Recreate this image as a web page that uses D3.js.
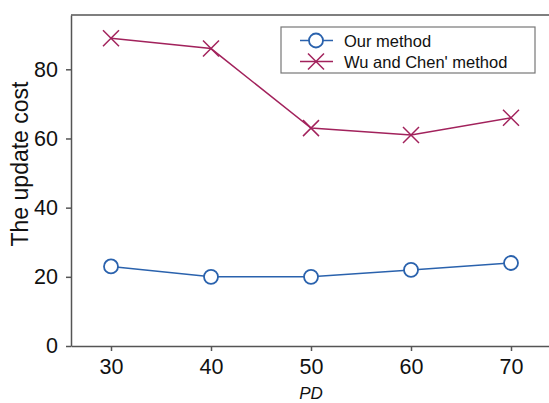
<!DOCTYPE html>
<html>
<head>
<meta charset="utf-8">
<script src="https://cdn.jsdelivr.net/npm/d3@7"></script>
<style>
  body { margin: 0; background: #fff; }
  svg { display: block; font-family: "Liberation Sans", Arial, sans-serif; }
</style>
</head>
<body>
<div id="chart"></div>
<script>
// data
var pd = [30, 40, 50, 60, 70];
var ourMethod = [23, 20, 20, 22, 24];
var wuChen = [89, 86, 63, 61, 66];
var seriesNames = ["Our method", "Wu and Chen' method"];
var yTicks = [0, 20, 40, 60, 80];

var svgWidth = 549, svgHeight = 403;
var margin = { top: 15, right: 0, bottom: 57, left: 71 };
var width = svgWidth - margin.left - margin.right;
var height = svgHeight - margin.top - margin.bottom;

var blue = "#2a62ad";
var red = "#a2225c";
var axisColor = "#555";

var svg = d3.select("#chart").append("svg")
  .attr("width", svgWidth)
  .attr("height", svgHeight);

var chartGroup = svg.append("g")
  .attr("transform", `translate(${margin.left}, ${margin.top})`);

var x = d3.scaleLinear().domain([26, 73.8]).range([0, width]);
var y = d3.scaleLinear().domain([0, 95.7]).range([height, 0]);

// axes
var xAxis = chartGroup.append("g")
  .attr("transform", `translate(0, ${height})`)
  .call(d3.axisBottom(x).tickValues(pd).tickSize(5).tickPadding(8).tickSizeOuter(0));
var yAxis = chartGroup.append("g")
  .call(d3.axisLeft(y).tickValues(yTicks).tickSize(5).tickPadding(8).tickSizeOuter(0));

[xAxis, yAxis].forEach(function(a) {
  a.selectAll("path, line").attr("stroke", axisColor).attr("stroke-width", 1.5);
  a.selectAll("text").attr("fill", "#111").style("font-size", "21.5px");
});

// top border
chartGroup.append("line")
  .attr("x1", 0).attr("x2", width).attr("y1", 0).attr("y2", 0)
  .attr("stroke", axisColor).attr("stroke-width", 1.5);

// axis titles
svg.append("text")
  .attr("transform", "translate(28, 164) rotate(-90)")
  .attr("text-anchor", "middle")
  .style("font-size", "23px")
  .attr("fill", "#111")
  .text("The update cost");

svg.append("text")
  .attr("x", margin.left + x(50))
  .attr("y", 399)
  .attr("text-anchor", "middle")
  .style("font-size", "17px")
  .style("font-style", "italic")
  .attr("fill", "#111")
  .text("PD");

var line = d3.line()
  .x(function(d) { return x(d[0]); })
  .y(function(d) { return y(d[1]); });

var ourData = pd.map(function(p, i) { return [p, ourMethod[i]]; });
var wuData = pd.map(function(p, i) { return [p, wuChen[i]]; });

chartGroup.append("path").datum(wuData)
  .attr("d", line).attr("fill", "none").attr("stroke", red).attr("stroke-width", 1.5);
chartGroup.append("path").datum(ourData)
  .attr("d", line).attr("fill", "none").attr("stroke", blue).attr("stroke-width", 1.5);

function crossPath(cx, cy, s) {
  return `M${cx - s},${cy - s}L${cx + s},${cy + s}M${cx - s},${cy + s}L${cx + s},${cy - s}`;
}

chartGroup.selectAll(".wu").data(wuData).enter().append("path")
  .attr("d", function(d) { return crossPath(x(d[0]), y(d[1]), 8); })
  .attr("stroke", red).attr("stroke-width", 1.5).attr("fill", "none");

chartGroup.selectAll(".our").data(ourData).enter().append("circle")
  .attr("cx", function(d) { return x(d[0]); })
  .attr("cy", function(d) { return y(d[1]); })
  .attr("r", 7)
  .attr("fill", "#fff").attr("stroke", blue).attr("stroke-width", 1.8);

// legend
var legend = svg.append("g");
legend.append("rect")
  .attr("x", 281).attr("y", 27).attr("width", 254).attr("height", 46)
  .attr("fill", "#fff").attr("stroke", "#777").attr("stroke-width", 1.2);

var legendY = [40.5, 61.5];
legendY.forEach(function(ly, i) {
  var c = i === 0 ? blue : red;
  legend.append("line")
    .attr("x1", 300).attr("x2", 333).attr("y1", ly).attr("y2", ly)
    .attr("stroke", c).attr("stroke-width", 1.5);
  if (i === 0) {
    legend.append("circle").attr("cx", 316).attr("cy", ly).attr("r", 7)
      .attr("fill", "#fff").attr("stroke", c).attr("stroke-width", 1.8);
  } else {
    legend.append("path").attr("d", crossPath(316, ly, 8))
      .attr("stroke", c).attr("stroke-width", 1.5);
  }
  legend.append("text")
    .attr("x", 344).attr("y", ly + 6)
    .style("font-size", "16.5px")
    .attr("fill", "#111")
    .text(seriesNames[i]);
});
</script>
</body>
</html>
